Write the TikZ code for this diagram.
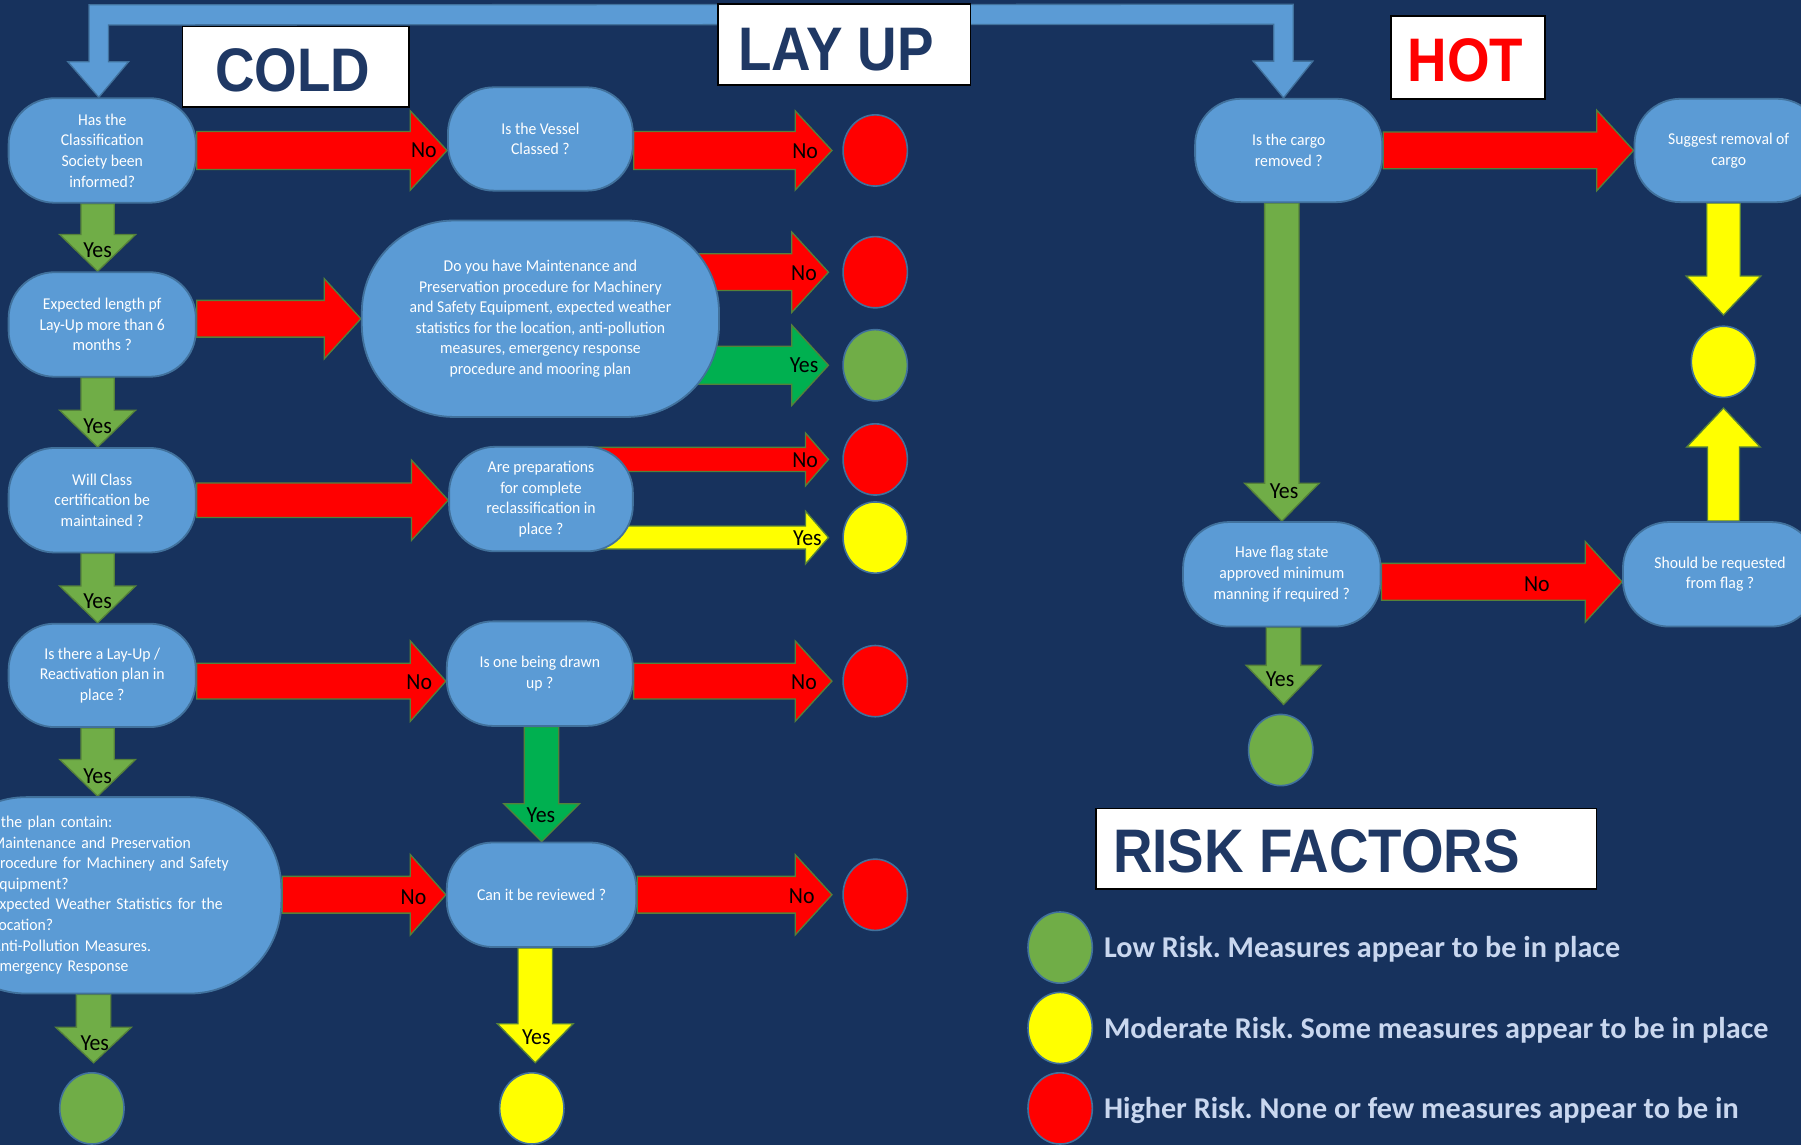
\documentclass[tikz,border=0pt]{standalone}
\usepackage{fontspec}
\setmainfont{Carlito}[FakeStretch=0.95]
\newfontfamily\legfont{Carlito}
\newfontfamily\titlefont{Liberation Sans}[FakeStretch=0.89]
\usetikzlibrary{calc,shapes.geometric}
\pgfdeclarelayer{bg}
\pgfdeclarelayer{arrows}
\pgfsetlayers{bg,arrows,main}
\frenchspacing
\definecolor{navy}{HTML}{17325D}
\definecolor{nodefill}{HTML}{5B9BD5}
\definecolor{nodeline}{HTML}{41719C}
\definecolor{olive}{HTML}{70AD47}
\definecolor{brightgreen}{HTML}{00B050}
\definecolor{arrline}{HTML}{55813A}
\definecolor{titleblue}{HTML}{1F3864}
\definecolor{legtext}{HTML}{C9D7EF}
\definecolor{myred}{HTML}{FF0000}
\definecolor{myyellow}{HTML}{FFFF00}
\def\s{1.1486}
% block arrows: style, start, tip, shaft half width, head half width, head length
\newcommand\blkright[6]{%
  \path let \p1=#2, \p2=#3 in (\x1,\y2) coordinate (bS) (\x2,\y2) coordinate (bT);
  \draw[#1] ($(bS)+(0,-#4)$) -- ($(bT)+(-#6,-#4)$) -- ($(bT)+(-#6,-#5)$) -- (bT)
    -- ($(bT)+(-#6,#5)$) -- ($(bT)+(-#6,#4)$) -- ($(bS)+(0,#4)$) -- cycle;}
\newcommand\blkdown[6]{%
  \path let \p1=#2, \p2=#3 in (\x2,\y1) coordinate (bS) (\x2,\y2) coordinate (bT);
  \draw[#1] ($(bS)+(-#4,0)$) -- ($(bT)+(-#4,-#6)$) -- ($(bT)+(-#5,-#6)$) -- (bT)
    -- ($(bT)+(#5,-#6)$) -- ($(bT)+(#4,-#6)$) -- ($(bS)+(#4,0)$) -- cycle;}
\newcommand\blkup[6]{%
  \path let \p1=#2, \p2=#3 in (\x2,\y1) coordinate (bS) (\x2,\y2) coordinate (bT);
  \draw[#1] ($(bS)+(-#4,0)$) -- ($(bT)+(-#4,#6)$) -- ($(bT)+(-#5,#6)$) -- (bT)
    -- ($(bT)+(#5,#6)$) -- ($(bT)+(#4,#6)$) -- ($(bS)+(#4,0)$) -- cycle;}
\begin{document}
\begin{tikzpicture}[x=1.1486pt, y=-1.1486pt,
  q/.style 2 args={draw=nodeline, line width=1.8pt, fill=nodefill, text=white,
    align=center, inner sep=0pt, font=\fontsize{16.5}{20.6}\selectfont,
    rounded corners=\s*40pt, minimum width=\s*#1pt, minimum height=\s*#2pt},
  bigr/.style={rounded corners=\s*80pt},
  circ/.style={ellipse, draw=nodeline, line width=1.6pt, inner sep=0pt,
    minimum width=\s*56pt, minimum height=\s*62pt},
  tbox/.style 2 args={draw=black, line width=1.5pt, fill=white, inner sep=0pt,
    minimum width=\s*#1pt, minimum height=\s*#2pt},
  ttext/.style={font=\titlefont\bfseries\fontsize{61.5}{70}\selectfont,
    text=titleblue, inner sep=0pt, anchor=base},
  legt/.style={font=\legfont\bfseries\fontsize{30.2}{36}\selectfont,
    text=legtext, inner sep=0pt, anchor=base west},
  lbl/.style={font=\fontsize{23}{27}\selectfont, text=black, inner sep=0pt},
  redarr/.style={fill=myred, draw=arrline, line width=1.3pt, line join=miter},
  olivearr/.style={fill=olive, draw=arrline, line width=1.3pt, line join=miter},
  greenarr/.style={fill=brightgreen, draw=arrline, line width=1.3pt, line join=miter},
  yelarr/.style={fill=myyellow, draw=arrline, line width=1.3pt, line join=miter},
  toparr/.style={fill=nodefill, draw=nodeline, line width=1.3pt, line join=miter}
]
\useasboundingbox (0,0) rectangle (1568,997);
\begin{pgfonlayer}{bg}
  \fill[navy] (0,0) rectangle (1568,997);
\end{pgfonlayer}

% ---------- titles ----------
\node[tbox={197}{70}] (coldbox) at (257.5,58) {};
\node[ttext] (coldtxt) at (255,80) {COLD};
\node[tbox={220}{70.5}] (layupbox) at (735,38.75) {};
\node[ttext] (layuptxt) at (728,61) {LAY UP};
\node[tbox={134}{72}] (hotbox) at (1278,50) {};
\node[ttext, text=myred] (hottxt) at (1276,71) {HOT};
\node[tbox={436}{70}] (riskbox) at (1172,739) {};
\node[ttext, anchor=base west] (risktxt) at (969,760) {RISK FACTORS};

% ---------- left column ----------
\node[q={163}{91}] (n1) at (89,131) {Has the\\Classification\\Society been\\informed?};
\node[q={163}{91}] (n2) at (89,282.5) {Expected length pf\\Lay-Up more than 6\\months ?};
\node[q={163}{91}] (n3) at (89,435.5) {Will Class\\certification be\\maintained ?};
\node[q={163}{90}] (n4) at (89,588) {Is there a Lay-Up /\\Reactivation plan in\\place ?};
\node[q={302}{171}, bigr, align=left, text width=\s*202pt] (n5) at (94,779.5)
  {\mbox{\hspace*{9pt}the plan contain:}\\\mbox{Maintenance and Preservation}\\
   \mbox{Procedure for Machinery and Safety}\\\mbox{Equipment?}\\
   \mbox{Expected Weather Statistics for the}\\\mbox{Location?}\\
   \mbox{Anti-Pollution Measures.}\\\mbox{Emergency Response}};

% ---------- middle column ----------
\node[q={161}{90}] (m1) at (470.5,121) {Is the Vessel\\Classed ?};
\node[q={311}{171}, bigr] (m2) at (470.5,277.5) {Do you have Maintenance and\\Preservation procedure for Machinery\\and Safety Equipment, expected weather\\statistics for the location, anti-pollution\\measures, emergency response\\procedure and mooring plan};
\node[q={160}{91}] (m3) at (471,434.5) {Are preparations\\for complete\\reclassification in\\place ?};
\node[q={162}{91}] (m4) at (470,586.5) {Is one being drawn\\up ?};
\node[q={165}{91}] (m5) at (471.5,779) {Can it be reviewed ?};

% ---------- hot column ----------
\node[q={163}{90}] (h1) at (1122,131) {Is the cargo\\removed ?};
\node[q={164}{90}] (h2) at (1505,131) {Suggest removal of\\cargo};
\node[q={172}{91}] (h3) at (1116,500) {Have flag state\\approved minimum\\manning if required ?};
\node[q={169}{91}] (h4) at (1497.5,500) {Should be requested\\from flag ?};

% ---------- outcome circles ----------
\node[circ, fill=myred] (c1) at (762,131) {};
\node[circ, fill=myred] (c2) at (762,237) {};
\node[circ, fill=olive] (c3) at (762,318) {};
\node[circ, fill=myred] (c4) at (762,400) {};
\node[circ, fill=myyellow] (c5) at (762,468) {};
\node[circ, fill=myred] (c6) at (762,593) {};
\node[circ, fill=myred] (c7) at (762,779) {};
\node[circ, fill=olive] (c8) at (80,965) {};
\node[circ, fill=myyellow] (c9) at (463,965) {};
\node[circ, fill=myyellow] (hc1) at (1500.5,315) {};
\node[circ, fill=olive] (hc2) at (1115,653) {};

% ---------- legend ----------
\node[circ, fill=olive] (lg) at (923,825) {};
\node[circ, fill=myyellow] (ly) at (923,895) {};
\node[circ, fill=myred] (lr) at (923,965) {};
\node[legt] (tg) at (961,834) {Low Risk. Measures appear to be in place};
\node[legt] (ty) at (961,904) {Moderate Risk. Some measures appear to be in place};
\node[legt] (tr) at (961,974) {Higher Risk. None or few measures appear to be in};

% ---------- connectors ----------
\begin{pgfonlayer}{arrows}
  % top split arrow from LAY UP to both branches
  \coordinate (tl) at ($(n1.north)+(-3,0)$);
  \coordinate (trr) at ($(h1.north)+(-4.5,0)$);
  \draw[toparr] (tl) -- ($(tl)+(26,-31)$) -- ($(tl)+(8.5,-31)$) -- ($(tl)+(8.5,-63)$)
    -- ($(trr)+(-8.5,-64)$) -- ($(trr)+(-8.5,-32)$) -- ($(trr)+(-26.5,-32)$) -- (trr)
    -- ($(trr)+(25.5,-32)$) -- ($(trr)+(8.5,-32)$) -- ($(trr)+(8.5,-81.5)$)
    -- ($(tl)+(-8.5,-80.5)$) -- ($(tl)+(-8.5,-31)$) -- ($(tl)+(-27,-31)$) -- cycle;
  % horizontal
  \blkright{redarr}{(n1.east)}{(m1.west |- n1.east)}{16.5}{34.5}{32}
  \blkright{redarr}{(m1.east |- n1.east)}{($(c1.west)+(-9,0)$)}{16.5}{34.5}{32}
  \blkright{redarr}{(n2.east)}{(m2.west)}{16}{35}{32}
  \blkright{redarr}{(m2.center)}{($(c2.west)+(-12,0)$)}{16}{35}{32}
  \blkright{greenarr}{(m2.center)}{($(c3.west)+(-12,0)$)}{16.5}{35}{32}
  \blkright{redarr}{(n3.east)}{(m3.west |- n3.east)}{15}{35}{32}
  \blkright{redarr}{(m3.center)}{($(c4.west)+(-12,0)$)}{10.5}{23}{20}
  \blkright{yelarr}{(m3.center)}{($(c5.west)+(-12,0)$)}{10}{23}{20}
  \blkright{redarr}{(n4.east)}{(m4.west |- c6.west)}{15.5}{35}{31}
  \blkright{redarr}{(m4.east)}{($(c6.west)+(-9,0)$)}{15.5}{35}{32}
  \blkright{redarr}{(n5.east)}{(m5.west)}{16}{35}{31}
  \blkright{redarr}{(m5.east)}{($(c7.west)+(-9,0)$)}{16}{35}{32}
  \blkright{redarr}{(h1.east)}{(h2.west |- h1.east)}{16}{35}{32}
  \blkright{redarr}{(h3.east)}{($(h4.west)+(0,6.5)$)}{16}{35}{32}
  % vertical
  \blkdown{olivearr}{(n1.south)}{($(n2.north)+(-4,0)$)}{14.5}{33}{32}
  \blkdown{olivearr}{(n2.south)}{($(n3.north)+(-4,0)$)}{14.5}{33}{32}
  \blkdown{olivearr}{(n3.south)}{($(n4.north)+(-4,0)$)}{14.5}{33}{32}
  \blkdown{olivearr}{(n4.south)}{($(n5.north -| n4.south)+(-4,0)$)}{14.5}{33}{32}
  \blkdown{olivearr}{(n5.south)}{($(c8.north)+(1.5,-8)$)}{15}{33}{31}
  \blkdown{greenarr}{(m4.south)}{(m5.north)}{15}{33}{33}
  \blkdown{yelarr}{(m5.south)}{($(c9.north)+(3,-8)$)}{15}{33}{34}
  \blkdown{olivearr}{(h1.south)}{(h3.north)}{15}{32.5}{33}
  \blkdown{olivearr}{(h3.south)}{($(hc2.north)+(2.5,-8)$)}{15}{32.5}{34}
  \blkdown{yelarr}{(h2.south)}{($(hc1.north)+(0,-9)$)}{14.5}{32.5}{34}
  \blkup{yelarr}{(h4.north)}{($(hc1.south)+(0,8.5)$)}{14}{32}{34}
\end{pgfonlayer}

% ---------- connector labels ----------
\node[lbl] (l1) at (369,131) {No};
\node[lbl] (l2) at (701,132) {No};
\node[lbl] (l3) at (700,238) {No};
\node[lbl] (l4) at (700,318) {Yes};
\node[lbl] (l5) at (701,401) {No};
\node[lbl] (l6) at (703,469) {Yes};
\node[lbl] (l7) at (365,594) {No};
\node[lbl] (l8) at (700,594) {No};
\node[lbl] (l9) at (360,781) {No};
\node[lbl] (l10) at (698,780) {No};
\node[lbl] (l11) at (1338,509) {No};
\node[lbl] (l12) at (85,218) {Yes};
\node[lbl] (l13) at (85,371) {Yes};
\node[lbl] (l14) at (85,523) {Yes};
\node[lbl] (l15) at (85,676) {Yes};
\node[lbl] (l16) at (82.5,908) {Yes};
\node[lbl] (l17) at (471,710) {Yes};
\node[lbl] (l18) at (467,903) {Yes};
\node[lbl] (l19) at (1118,428) {Yes};
\node[lbl] (l20) at (1114.5,591) {Yes};
\end{tikzpicture}
\end{document}
